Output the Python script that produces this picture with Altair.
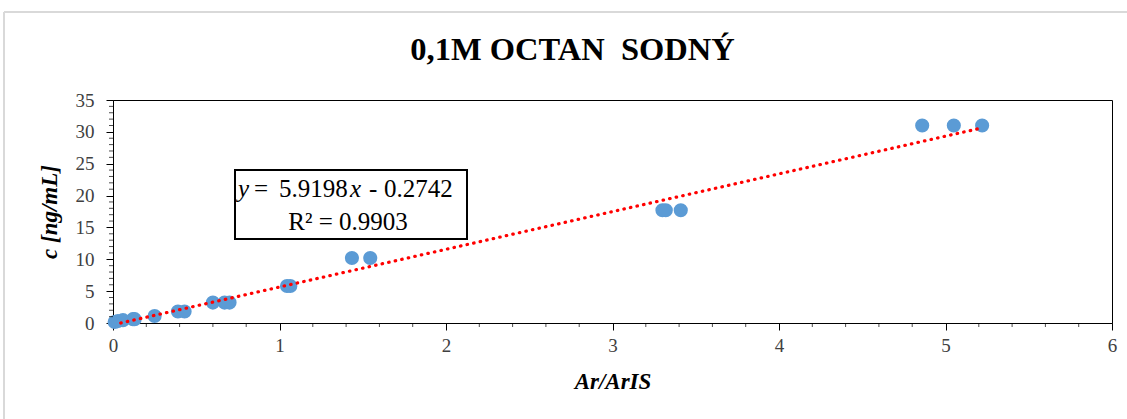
import altair as alt
import pandas as pd

# ---- data ----
ratio = [0.01, 0.03, 0.06, 0.12, 0.13, 0.25, 0.39, 0.43, 0.60, 0.67, 0.70,
         1.045, 1.065, 1.435, 1.545, 3.30, 3.32, 3.41, 4.86, 5.05, 5.22]
conc = [0.15, 0.3, 0.45, 0.6, 0.6, 1.1, 1.8, 1.8, 3.2, 3.2, 3.2,
        5.8, 5.8, 10.2, 10.2, 17.7, 17.7, 17.7, 31.0, 31.0, 31.0]

slope = 5.9198
intercept = -0.2742
r2 = 0.9903
trend_x = [-intercept / slope, max(ratio)]
trend_y = [slope * v + intercept for v in trend_x]

x_major = [0, 1, 2, 3, 4, 5, 6]
x_minor = [round(i * 0.2, 1) for i in range(31) if i % 5]
y_major = [0, 5, 10, 15, 20, 25, 30, 35]
y_minor = [v for v in range(36) if v % 5]

title_text = "0,1M OCTAN \u00a0SODNÝ"
x_title = "Ar/ArIS"
y_title = "c [ng/mL]"

pts = pd.DataFrame({"x": ratio, "y": conc})
trend = pd.DataFrame({"x": trend_x, "y": trend_y})
one = pd.DataFrame({"a": [0]})

SERIF = "Liberation Serif"
W, H = 999, 223

xs = alt.Scale(domain=[0, 6], nice=False, zero=False)
ys = alt.Scale(domain=[0, 35], nice=False, zero=False)

x_axis = alt.Axis(orient="bottom", values=x_major, title=x_title, grid=False, tickSize=7,
                  labelFont=SERIF, labelFontSize=19, labelColor="#404040",
                  labelPadding=6, titleFont=SERIF, titleFontSize=23,
                  titleFontStyle="italic", titleFontWeight="bold",
                  titleColor="#000", titlePadding=15, domainColor="#000",
                  tickColor="#000", labelFlush=False)
y_axis = alt.Axis(orient="left", values=y_major, title=y_title, grid=False, tickSize=7,
                  labelFont=SERIF, labelFontSize=19, labelColor="#404040",
                  labelPadding=12, titleFont=SERIF, titleFontSize=23,
                  titleFontStyle="italic", titleFontWeight="bold",
                  titleColor="#000", titlePadding=14, domainColor="#000",
                  tickColor="#000", labelFlush=False)

points = alt.Chart(pts).mark_circle(size=200, color="#5B9BD5", opacity=1).encode(
    x=alt.X("x:Q", scale=xs, axis=x_axis, title=x_title),
    y=alt.Y("y:Q", scale=ys, axis=y_axis, title=y_title),
)

# minor tick marks (outside the plot, along the axes); same axis definitions so axes merge
minor_x = alt.Chart(pd.DataFrame({"x": x_minor})).mark_tick(
    orient="vertical", size=4, thickness=1, color="#000").encode(
    x=alt.X("x:Q", scale=xs, axis=x_axis, title=x_title), y=alt.value(H + 2))
minor_y = alt.Chart(pd.DataFrame({"y": y_minor})).mark_tick(
    orient="horizontal", size=4, thickness=1, color="#000").encode(
    y=alt.Y("y:Q", scale=ys, axis=y_axis, title=y_title), x=alt.value(-2))

line = alt.Chart(trend).mark_line(color="#FF0000", strokeWidth=3.2,
                                  strokeDash=[0.5, 6.2], strokeCap="round").encode(
    x=alt.X("x:Q", scale=xs, axis=x_axis, title=x_title),
    y=alt.Y("y:Q", scale=ys, axis=y_axis, title=y_title)
)

box = alt.Chart(one).mark_rect(fill="white", stroke="black", strokeWidth=2).encode(
    x=alt.value(122), x2=alt.value(354), y=alt.value(70), y2=alt.value(139)
)

fs = 25
eq_parts = [
    ("y", "italic", 125),
    ("=", "normal", 141),
    ("5.9198", "normal", 166),
    ("x", "italic", 237),
    ("-", "normal", 256),
    ("0.2742", "normal", 271),
]
eq_layers = [
    alt.Chart(one).mark_text(text=t, font=SERIF, fontSize=fs, fontStyle=st,
                             align="left", baseline="alphabetic", color="#000").encode(
        x=alt.value(px), y=alt.value(97))
    for t, st, px in eq_parts
]
r2_text = alt.Chart(one).mark_text(text=f"R² = {r2}", font=SERIF, fontSize=fs,
                                   align="center", baseline="alphabetic",
                                   color="#000").encode(
    x=alt.value(235), y=alt.value(130))

frame_top = alt.Chart(one).mark_rule(color="#d9d9d9", strokeWidth=2).encode(
    x=alt.value(-109), x2=alt.value(1030), y=alt.value(-88))
frame_left = alt.Chart(one).mark_rule(color="#d9d9d9", strokeWidth=2).encode(
    x=alt.value(-109), y=alt.value(-88), y2=alt.value(330))

chart = alt.layer(
    frame_top, frame_left, points, minor_x, minor_y, line, box, *eq_layers, r2_text
).properties(
    width=W, height=H,
    title=alt.TitleParams(title_text, font=SERIF, fontSize=32.5, fontWeight="bold",
                          color="#000", anchor="middle", dx=-40, offset=0, dy=81,
                          frame="group", baseline="alphabetic"),
    autosize=alt.AutoSizeParams(type="none"),
    padding={"left": 113, "top": 100, "right": 15, "bottom": 96},
    background="white",
).configure_view(stroke="#000", strokeWidth=1)

chart.save("out.html", embed_options={"renderer": "svg", "actions": False})
